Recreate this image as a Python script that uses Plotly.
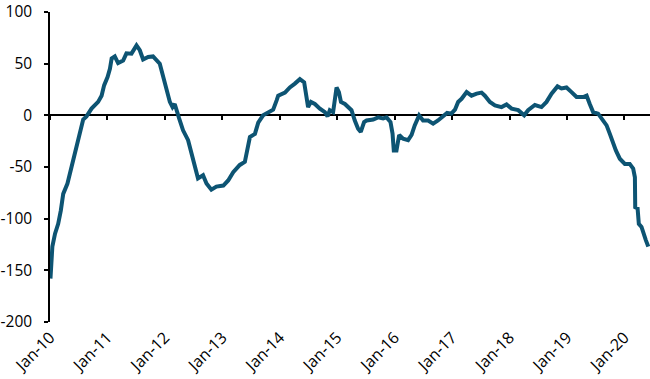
import plotly.graph_objects as go

dates = [
    "2010-01-04", "2010-01-08", "2010-01-16", "2010-02-02", "2010-02-22", "2010-03-11",
    "2010-03-26", "2010-04-22", "2010-05-18", "2010-06-19", "2010-07-10", "2010-07-31",
    "2010-08-21", "2010-09-22", "2010-11-03", "2010-11-25", "2010-12-11", "2011-01-02",
    "2011-01-17", "2011-01-28", "2011-02-17", "2011-03-10", "2011-04-11", "2011-05-02",
    "2011-06-03", "2011-07-05", "2011-07-26", "2011-08-16", "2011-09-17", "2011-10-18",
    "2011-11-30", "2011-12-21", "2012-01-12", "2012-02-02", "2012-02-19", "2012-03-04",
    "2012-04-01", "2012-04-26", "2012-05-28", "2012-06-18", "2012-07-09", "2012-07-30",
    "2012-08-31", "2012-09-22", "2012-10-23", "2012-11-24", "2013-01-07", "2013-02-07",
    "2013-03-11", "2013-04-22", "2013-05-24", "2013-06-14", "2013-06-25", "2013-07-27",
    "2013-08-17", "2013-09-17", "2013-10-19", "2013-11-20", "2013-12-12", "2013-12-22",
    "2014-02-03", "2014-03-06", "2014-04-07", "2014-05-09", "2014-06-05", "2014-06-20",
    "2014-06-30", "2014-07-18", "2014-08-12", "2014-09-13", "2014-10-15", "2014-11-01",
    "2014-11-15", "2014-12-06", "2014-12-28", "2015-01-12", "2015-01-25", "2015-02-19",
    "2015-04-02", "2015-04-23", "2015-05-14", "2015-05-31", "2015-06-21", "2015-07-07",
    "2015-08-18", "2015-09-18", "2015-10-20", "2015-11-11", "2015-12-06", "2015-12-19",
    "2015-12-27", "2016-01-13", "2016-01-30", "2016-02-24", "2016-03-27", "2016-04-18",
    "2016-05-08", "2016-06-05", "2016-06-30", "2016-08-01", "2016-09-02", "2016-10-03",
    "2016-11-04", "2016-11-30", "2016-12-27", "2017-01-19", "2017-02-08", "2017-03-02",
    "2017-04-03", "2017-05-04", "2017-06-06", "2017-07-07", "2017-07-28", "2017-08-29",
    "2017-09-30", "2017-11-11", "2017-12-13", "2018-01-14", "2018-02-25", "2018-04-04",
    "2018-04-29", "2018-06-11", "2018-07-23", "2018-08-24", "2018-09-25", "2018-11-02",
    "2018-11-27", "2018-12-29", "2019-01-30", "2019-03-03", "2019-04-14", "2019-05-06",
    "2019-05-26", "2019-06-17", "2019-07-18", "2019-08-09", "2019-09-10", "2019-09-30",
    "2019-10-18", "2019-11-08", "2019-12-03", "2020-01-04", "2020-02-04", "2020-02-26",
    "2020-03-08", "2020-03-10", "2020-03-25", "2020-04-02", "2020-04-19", "2020-05-04",
    "2020-05-17", "2020-06-01",
]

values = [
    -158, -150, -127, -114.5, -105, -92,
    -76, -66, -50, -31, -14.5, -4,
    -1, 6.5, 13, 19, 29, 37,
    45, 55, 57, 50.6, 53, 60,
    59.7, 67.7, 63, 54, 56.5, 57,
    50, 37, 27, 13, 8, 11,
    -3, -14.5, -24, -37, -52, -61,
    -58, -66, -72, -69, -68, -63,
    -55, -48, -45, -31, -21, -18,
    -7, 0, 3, 5.5, 14.5, 19,
    22, 27, 30.7, 35, 32, 14.5,
    8, 13, 11, 6.5, 3, -1,
    5, 3, 27, 22.5, 13, 11,
    5, -5, -13, -16, -6.5, -5,
    -4, -2, -3, -2, -6.5, -17.7,
    -34, -34, -19, -22.6, -24, -19,
    -9.7, 0, -5, -5, -8, -5,
    -1.6, 2.3, 1.6, 5.5, 13, 16,
    22.5, 19, 21, 22, 19, 13,
    9.7, 8, 10.6, 6.5, 5, 0,
    5, 10, 8, 13, 21, 28,
    26, 27, 22.5, 17.7, 17.7, 19,
    11, 3, 1.6, -3, -9.7, -17.7,
    -26, -34, -42, -47, -47, -51.6,
    -60, -89, -90, -105, -108, -116,
    -121, -127,
]

x_range = ["2010-01-01", "2020-06-12"]
y_ticks = [-200, -150, -100, -50, 0, 50, 100]
y_tick_text = ["-200", "-150", "-100", "-50", "0", "50", "100"]

LINE_COLOR = "#0D5473"
FONT = "Open Sans"

fig = go.Figure()
# main series (bottom axis carries the date labels)
fig.add_trace(go.Scatter(
    x=dates, y=values, mode="lines",
    line=dict(color=LINE_COLOR, width=4),
    showlegend=False, hoverinfo="skip",
    xaxis="x", yaxis="y",
))
# same series bound to the axis drawn at y = 0 (transparent, only so that axis renders)
fig.add_trace(go.Scatter(
    x=dates, y=values, mode="lines",
    line=dict(color="rgba(0,0,0,0)", width=0),
    showlegend=False, hoverinfo="skip",
    xaxis="x2", yaxis="y",
))

fig.update_layout(
    width=650, height=379,
    margin=dict(l=50, r=0, t=12, b=57, autoexpand=False),
    paper_bgcolor="white", plot_bgcolor="white",
    font=dict(family=FONT, size=16, color="#000000"),
    xaxis=dict(
        type="date", range=x_range, automargin=False,
        tick0="2010-01-01", dtick="M12", tickformat="%b-%y",
        tickangle=-45, showline=False, showgrid=False, zeroline=False,
        ticks="", ticklabelstandoff=2,
        tickfont=dict(family=FONT, size=16, color="#000000"),
    ),
    xaxis2=dict(
        type="date", range=x_range, overlaying="x", anchor="free",
        position=2 / 3, side="bottom", automargin=False,
        tick0="2010-01-01", dtick="M12",
        showline=True, linecolor="#000000", linewidth=1.5,
        ticks="outside", ticklen=4, tickwidth=1.5, tickcolor="#000000",
        showticklabels=False, showgrid=False, zeroline=False,
        layer="below traces",
    ),
    yaxis=dict(
        range=[-200, 100], tickvals=y_ticks, ticktext=y_tick_text,
        automargin=False,
        showline=True, linecolor="#000000", linewidth=1.5,
        ticks="outside", ticklen=4, tickwidth=1.5, tickcolor="#000000",
        showgrid=False, zeroline=False, ticklabelstandoff=9,
        tickfont=dict(family=FONT, size=15.5, color="#000000"),
    ),
)

fig.write_html(
    "out.html",
    config={"displayModeBar": False},
    post_script="document.body.style.margin='0';document.body.style.padding='0';",
)
